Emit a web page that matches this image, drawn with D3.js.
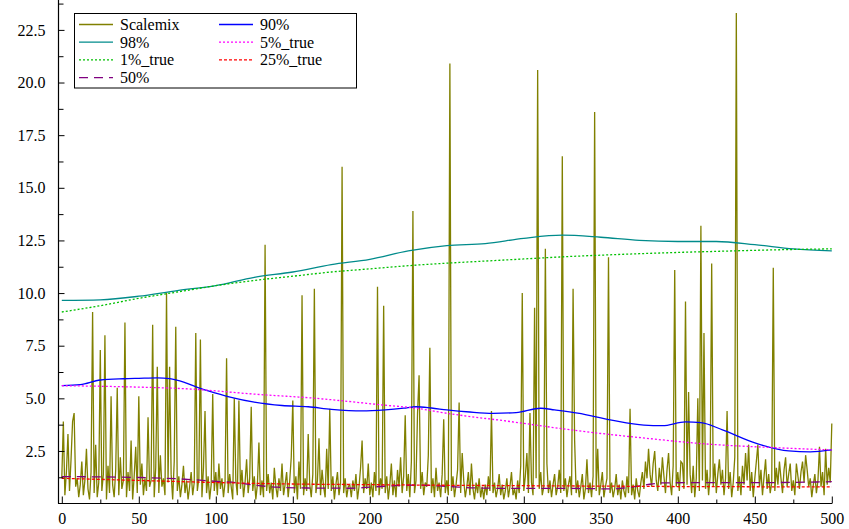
<!DOCTYPE html>
<html>
<head>
<meta charset="utf-8">
<script src="https://cdn.jsdelivr.net/npm/d3@7"></script>
<style>
  body { margin: 0; background: #fff; }
  svg text { font-family: "Times New Roman", Times, "Liberation Serif", Tinos, "DejaVu Serif", serif; }
</style>
</head>
<body>
<script>
// Scalemix, one value per step 0..500
var scalemix = [
  1.2,3.9,0.4,1.5,3.3,0.6,2.1,3.9,4.3,0.8,1.2,0.3,0.9,2.0,0.4,1.1,2.6,0.7,0.2,1.5,9.1,0.5,2.8,0.3,1.0,
  7.3,0.6,1.4,8.0,0.2,1.8,0.5,5.1,0.9,0.3,1.6,5.5,0.4,2.2,0.7,1.1,8.6,0.3,1.5,0.6,3.0,0.2,1.3,2.7,0.5,
  5.1,0.9,1.9,0.4,1.2,0.6,4.1,0.8,1.1,8.5,0.3,1.7,6.5,0.5,2.3,0.8,1.2,0.4,10.0,1.0,6.5,1.4,0.2,2.0,8.4,
  0.6,1.3,0.3,0.9,1.8,0.5,1.1,0.2,0.8,1.5,0.4,1.0,8.1,0.6,1.2,7.8,0.3,1.7,4.4,0.5,1.3,0.2,0.9,5.2,0.6,
  1.5,0.4,1.9,0.7,1.2,0.3,1.0,6.9,0.5,1.4,0.8,0.2,5.0,1.1,0.4,4.9,0.7,1.6,0.3,1.0,2.1,0.5,1.2,4.6,0.6,
  1.3,0.2,0.9,2.9,0.4,1.1,0.3,12.3,0.6,1.4,0.5,1.0,0.2,1.7,0.8,0.3,1.2,0.6,1.9,0.4,0.9,1.5,0.3,1.1,2.2,
  4.9,0.5,1.3,0.2,2.0,0.7,9.9,0.4,1.2,0.6,3.3,0.9,0.3,1.4,10.2,0.5,1.1,3.1,0.4,1.6,0.8,0.3,2.6,0.7,4.5,
  0.6,1.3,0.2,0.9,1.5,0.4,1.0,16.0,0.5,1.2,0.3,0.8,0.9,0.3,1.1,0.6,1.4,0.2,0.8,1.7,3.0,0.5,1.2,0.7,1.9,
  0.4,1.0,0.3,1.5,0.6,10.3,0.4,1.2,0.7,9.4,0.5,1.3,0.2,0.9,1.9,0.4,1.1,0.3,1.6,0.8,2.2,0.5,1.3,4.2,0.6,
  1.4,0.3,2.0,13.9,0.5,1.1,4.3,6.1,0.7,1.5,0.4,1.0,0.8,2.3,7.4,0.5,1.2,0.3,1.7,0.6,1.0,0.3,1.4,4.0,0.5,
  1.1,0.4,20.9,0.6,1.3,0.3,0.9,1.6,4.8,0.5,2.4,1.1,0.3,0.8,1.5,0.4,1.9,0.7,0.2,1.0,0.5,1.2,0.3,0.8,0.2,
  0.9,0.4,1.3,0.6,4.4,0.5,1.0,0.3,0.7,1.4,0.4,0.9,0.2,0.6,1.2,0.3,0.8,1.5,0.4,0.7,0.2,1.1,0.5,1.8,10.0,
  0.6,1.3,2.4,0.5,4.3,1.0,0.4,9.3,1.2,20.6,0.7,1.5,0.4,0.8,12.1,1.9,0.5,1.1,0.3,0.9,1.4,0.4,0.8,1.6,0.5,
  16.5,0.6,1.2,0.3,0.9,1.3,0.4,10.2,3.0,0.5,1.1,0.3,0.8,1.4,0.2,0.7,2.1,0.5,1.0,0.3,1.3,18.6,0.6,2.6,0.4,
  0.9,1.5,0.3,0.8,1.2,11.7,0.5,1.0,0.3,0.7,1.4,0.4,0.9,0.2,1.1,0.6,0.3,1.3,0.5,4.5,0.4,0.9,0.2,1.2,0.6,
  0.3,1.0,1.5,0.7,2.0,1.2,2.6,1.4,0.8,1.9,2.5,1.1,0.6,1.7,0.9,2.2,1.3,0.5,1.6,2.4,1.0,0.4,1.8,11.1,0.8,
  1.5,0.6,2.0,1.9,0.7,9.6,0.9,5.3,1.4,0.5,1.8,0.3,1.2,5.0,0.6,13.2,1.1,8.1,0.7,1.6,0.4,1.3,11.4,0.8,1.9,
  0.5,1.4,2.1,0.9,1.6,0.4,1.2,4.4,0.7,1.5,0.3,1.0,2.2,23.3,0.6,1.3,0.4,1.8,0.9,2.4,1.1,2.8,0.6,1.5,0.3,
  1.2,2.0,2.8,0.8,1.6,0.4,1.3,2.1,0.7,1.4,0.5,1.0,11.2,0.6,1.7,0.9,2.0,1.2,0.5,1.6,2.2,0.8,1.4,1.9,0.6,
  1.1,0.4,1.9,1.3,0.7,1.5,2.0,1.0,2.3,1.6,0.8,1.2,0.3,0.9,1.4,0.5,1.1,2.7,0.8,1.5,0.4,2.6,0.9,1.7,1.0,3.8
];

// smooth curves, read as [x, value]
var p98 = [[0,9.65],[25,9.68],[50,9.85],[75,10.12],[100,10.35],[125,10.75],[150,11.0],[175,11.35],
  [200,11.6],[225,12.0],[250,12.25],[275,12.35],[300,12.6],[325,12.75],[350,12.65],[375,12.5],
  [400,12.45],[425,12.45],[450,12.3],[475,12.1],[500,12.0]];
var p90 = [[0,5.6],[12,5.65],[25,5.87],[40,5.93],[50,5.95],[62,5.97],[70,5.94],[80,5.75],[88,5.52],
  [100,5.25],[110,5.05],[125,4.82],[143,4.66],[160,4.6],[175,4.48],[195,4.4],[210,4.45],[222,4.53],
  [230,4.6],[240,4.54],[250,4.45],[265,4.35],[280,4.29],[295,4.32],[311,4.53],[320,4.45],[335,4.3],
  [357,3.97],[378,3.73],[390,3.7],[405,3.88],[415,3.85],[429,3.5],[451,2.86],[472,2.5],[486,2.46],[500,2.55]];
var p5true = [[0,5.6],[40,5.55],[84,5.44],[125,5.2],[165,5.0],[209,4.68],[230,4.53],[250,4.29],
  [292,3.89],[335,3.46],[376,3.13],[419,2.83],[462,2.66],[500,2.55]];
var p1true = [[0,9.1],[25,9.4],[50,9.75],[75,10.05],[100,10.35],[125,10.6],[150,10.8],[175,11.0],
  [200,11.15],[225,11.3],[250,11.42],[275,11.52],[300,11.62],[325,11.72],[350,11.8],[375,11.87],
  [400,11.93],[425,11.98],[450,12.03],[475,12.07],[500,12.1]];
var p25true = [[0,1.2],[50,1.1],[100,1.0],[150,0.93],[200,0.9],[250,0.87],[300,0.85],[350,0.83],
  [400,0.81],[450,0.8],[500,0.79]];
var p50 = [[0,1.28],[25,1.27],[50,1.24],[75,1.18],[100,1.06],[115,0.98],[125,0.88],[140,0.78],
  [160,0.74],[187,0.73],[204,0.8],[230,0.88],[250,0.82],[270,0.74],[300,0.72],[330,0.72],[357,0.7],
  [370,0.78],[380,0.9],[390,0.98],[420,1.0],[460,1.0],[500,1.04]];

var xTicks = [0,50,100,150,200,250,300,350,400,450,500];
var yTicks = [2.5,5.0,7.5,10.0,12.5,15.0,17.5,20.0,22.5];

var width = 849, height = 529;
var fontStack = '"Times New Roman", Times, "Liberation Serif", Tinos, "DejaVu Serif", serif';

var svg = d3.select("body").append("svg")
    .attr("width", width).attr("height", height);

var x = d3.scaleLinear().domain([0, 500]).range([61.8, 831.8]);
var y = d3.scaleLinear().domain([0, 23.92]).range([503.6, 0]);

// series
var series = [
  {name:"Scalemix", color:"#808000", dash:null, data: scalemix.map(function(v,i){return [i,v];}), curve:d3.curveLinear},
  {name:"98%", color:"#008b8b", dash:null, data:p98, curve:d3.curveMonotoneX},
  {name:"1%_true", color:"#00c000", dash:"2,2", data:p1true, curve:d3.curveMonotoneX},
  {name:"50%", color:"#800080", dash:"9,6", data:p50, curve:d3.curveMonotoneX},
  {name:"90%", color:"#0000ff", dash:null, data:p90, curve:d3.curveMonotoneX},
  {name:"5%_true", color:"#ff00ff", dash:"2,2", data:p5true, curve:d3.curveMonotoneX},
  {name:"25%_true", color:"#ff0000", dash:"3,2", data:p25true, curve:d3.curveMonotoneX}
];

series.forEach(function(s){
  var line = d3.line().x(function(d){return x(d[0]);}).y(function(d){return y(d[1]);}).curve(s.curve);
  svg.append("path").datum(s.data)
    .attr("d", line)
    .attr("fill", "none")
    .attr("stroke", s.color)
    .attr("stroke-width", 1.3)
    .attr("stroke-dasharray", s.dash);
});

// axes
var yAxis = d3.axisLeft(y).tickValues(yTicks).tickFormat(d3.format(".1f"))
    .tickSizeInner(-6).tickSizeOuter(0).tickPadding(13);
var yMinor = d3.axisLeft(y).tickValues(d3.range(1.25, 24, 2.5)).tickFormat("")
    .tickSizeInner(-5).tickSizeOuter(0);
var xAxis = d3.axisBottom(x).tickValues(xTicks).tickFormat(d3.format("d"))
    .tickSizeInner(-7).tickSizeOuter(0).tickPadding(9);
var xMinor = d3.axisBottom(x).tickValues(d3.range(25, 500, 50)).tickFormat("")
    .tickSizeInner(-4).tickSizeOuter(0);

svg.append("g").attr("transform", "translate(58.5,0)").call(yAxis);
svg.append("g").attr("transform", "translate(58.5,0)").call(yMinor);
svg.append("g").attr("transform", "translate(0,503.5)").call(xAxis);
svg.append("g").attr("transform", "translate(0,503.5)").call(xMinor);
svg.selectAll(".domain").remove();
svg.selectAll("g").attr("font-family", fontStack);
svg.selectAll(".tick text").attr("font-size", 16).attr("fill", "#000");
svg.selectAll(".tick line").attr("stroke", "#000");

svg.append("line").attr("x1", 58.5).attr("x2", 58.5).attr("y1", 0).attr("y2", 503.5)
  .attr("stroke", "#000").attr("stroke-width", 1.2);
svg.append("line").attr("x1", 58).attr("x2", 832).attr("y1", 503.5).attr("y2", 503.5)
  .attr("stroke", "#000").attr("stroke-width", 1.2);

// legend
var legend = svg.append("g").attr("font-family", fontStack);
legend.append("rect").attr("x", 74.5).attr("y", 13.5).attr("width", 282).attr("height", 74.5)
  .attr("fill", "#fff").attr("stroke", "#000").attr("stroke-width", 1);

var legendOrder = ["Scalemix","90%","98%","5%_true","1%_true","25%_true","50%"];
legendOrder.forEach(function(name, i){
  var s = series.filter(function(d){return d.name === name;})[0];
  var col = i % 2, row = Math.floor(i / 2);
  var lx = col === 0 ? 79 : 219;
  var ly = 24.5 + row * 17.7;
  legend.append("line").attr("x1", lx).attr("x2", lx + 34).attr("y1", ly).attr("y2", ly)
    .attr("stroke", s.color).attr("stroke-width", 1.3).attr("stroke-dasharray", s.dash);
  legend.append("text").attr("x", lx + 41).attr("y", ly + 5.5)
    .attr("font-size", 16).attr("fill", "#000").text(name);
});
</script>
</body>
</html>
